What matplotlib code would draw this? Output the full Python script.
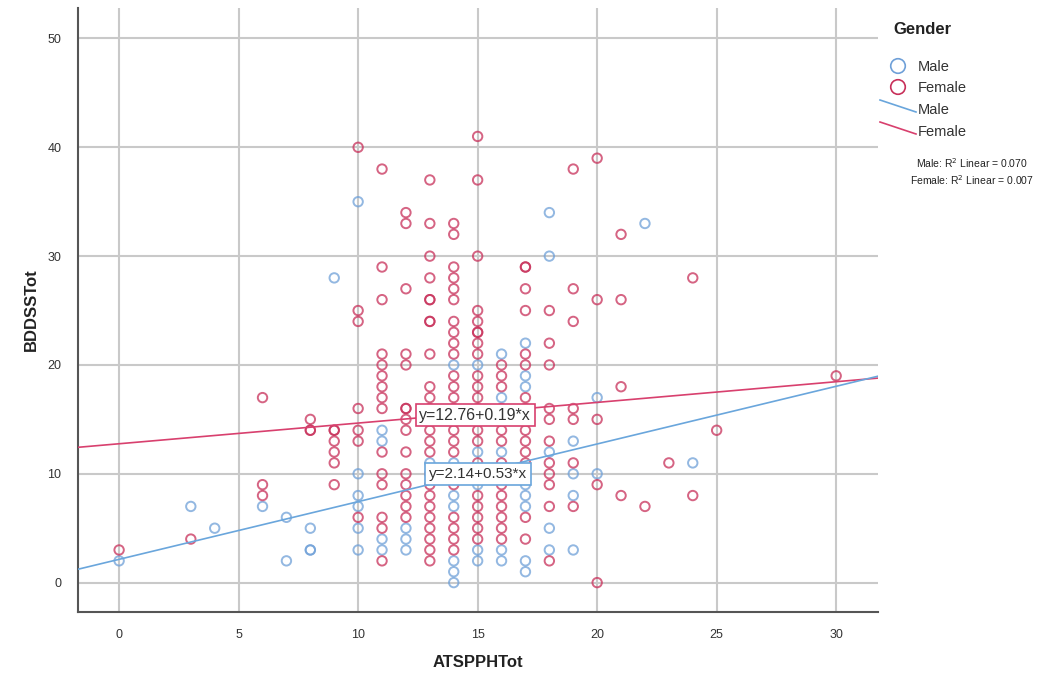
import matplotlib.pyplot as plt
import numpy as np

# scatter values (ATSPPHTot -> list of BDDSSTot)
male_pts = {
    0: [2], 3: [7], 4: [5], 6: [7], 7: [6, 2], 8: [5, 3, 3], 9: [28],
    10: [35, 10, 8, 7, 5, 3], 11: [14, 13, 4, 3], 12: [5, 4, 3], 13: [11],
    14: [20, 11, 10, 8, 7, 2, 1, 0], 15: [20, 12, 9, 3, 2], 16: [21, 17, 12, 3, 2],
    17: [22, 19, 18, 9, 8, 7, 2, 1], 18: [34, 30, 12, 5, 3], 19: [13, 10, 8, 3],
    20: [17, 10], 22: [33], 24: [11],
}
female_pts = {
    0: [3], 3: [4], 6: [17, 9, 8], 8: [15, 14, 14], 9: [14, 14, 13, 12, 11, 9],
    10: [40, 25, 24, 16, 14, 13, 6],
    11: [38, 29, 26, 21, 20, 19, 18, 17, 16, 12, 10, 9, 6, 5, 2],
    12: [34, 33, 27, 21, 20, 16, 16, 15, 14, 12, 10, 9, 8, 7, 6],
    13: [37, 33, 30, 28, 26, 26, 24, 24, 21, 18, 17, 16, 15, 14, 13, 12, 10, 9, 8, 7, 6, 5, 4, 3, 2],
    14: [33, 32, 29, 28, 27, 26, 24, 23, 22, 21, 19, 18, 17, 16, 15, 14, 13, 12, 9, 6, 5, 4, 3],
    15: [41, 37, 30, 25, 24, 23, 23, 22, 21, 19, 18, 17, 16, 15, 14, 13, 11, 10, 8, 7, 6, 5, 4],
    16: [20, 19, 18, 16, 15, 14, 13, 11, 10, 9, 8, 7, 6, 5, 4],
    17: [29, 29, 27, 25, 21, 20, 17, 16, 15, 14, 13, 12, 11, 10, 6, 4],
    18: [25, 22, 20, 16, 15, 13, 11, 10, 9, 7, 2],
    19: [38, 27, 24, 16, 15, 11, 7],
    20: [39, 26, 15, 9, 0], 21: [32, 26, 18, 8], 22: [7], 23: [11],
    24: [28, 8], 25: [14], 30: [19],
}

# fit lines as printed on the chart
male_fit = (2.14, 0.53)
female_fit = (12.76, 0.19)
male_r2 = "0.070"
female_r2 = "0.007"

blue = '#6fa0d8'
red = '#c8305a'

def flatten(d):
    xs, ys = [], []
    for k, v in d.items():
        xs += [k] * len(v)
        ys += v
    return np.array(xs), np.array(ys)

mx, my = flatten(male_pts)
fx, fy = flatten(female_pts)

fig = plt.figure(figsize=(10.57, 6.81), dpi=100)
plt.rcParams['font.family'] = ['Liberation Sans', 'DejaVu Sans']
ax = fig.add_axes([78/1057, 1-612/681, 800/1057, 604/681])

xlim = (-1.72, 31.75)
ax.set_xlim(xlim)
ax.set_ylim(-2.7, 52.8)
ax.set_xticks(range(0, 31, 5))
ax.set_yticks(range(0, 51, 10))
ax.grid(True, color='#c9c9c9', lw=1.5)
ax.set_axisbelow(True)
ax.tick_params(length=0, labelsize=9, colors='#333333', pad=12)
for s in ['top', 'right']:
    ax.spines[s].set_visible(False)
for s in ['left', 'bottom']:
    ax.spines[s].set_color('#555555')
    ax.spines[s].set_linewidth(1.5)

ax.scatter(mx, my, s=46, facecolors='none', edgecolors=blue, linewidths=1.4, alpha=0.75, zorder=3)
ax.scatter(fx, fy, s=46, facecolors='none', edgecolors=red, linewidths=1.4, alpha=0.75, zorder=3)

xx = np.array(xlim)
ax.plot(xx, female_fit[0] + female_fit[1]*xx, color='#d8406e', lw=1.2, zorder=4)
ax.plot(xx, male_fit[0] + male_fit[1]*xx, color='#6aa6dc', lw=1.2, zorder=4)

ax.text(14.9, 15.4, "y=%.2f+%.2f*x" % female_fit, ha='center', va='center', fontsize=11.5,
        color='#333333', zorder=6,
        bbox=dict(boxstyle='square,pad=0.22', fc='white', ec='#d8406e', lw=1.2))
ax.text(15.0, 10.0, "y=%.2f+%.2f*x" % male_fit, ha='center', va='center', fontsize=11,
        color='#333333', zorder=6,
        bbox=dict(boxstyle='square,pad=0.25', fc='white', ec='#6aa6dc', lw=1.2))

ax.set_xlabel('ATSPPHTot', fontsize=12, fontweight='bold', color='#222222', labelpad=10)
ax.set_ylabel('BDDSSTot', fontsize=12, fontweight='bold', color='#222222', labelpad=6)

# legend drawn by hand, in pixel coordinates
lg = fig.add_axes([0, 0, 1, 1])
lg.set_xlim(0, 1057)
lg.set_ylim(681, 0)
lg.axis('off')
lg.text(893, 30, 'Gender', fontsize=12, fontweight='bold', va='center', color='#222222')
lg.scatter([898], [66], s=110, facecolors='none', edgecolors=blue, linewidths=1.2)
lg.text(918, 67, 'Male', fontsize=10.5, va='center', color='#333333')
lg.scatter([898], [87], s=110, facecolors='none', edgecolors=red, linewidths=1.2)
lg.text(918, 88, 'Female', fontsize=10.5, va='center', color='#333333')
lg.plot([880, 916], [100, 112], color='#6aa6dc', lw=1.2)
lg.text(918, 110, 'Male', fontsize=10.5, va='center', color='#333333')
lg.plot([880, 916], [122, 134], color='#d8406e', lw=1.2)
lg.text(918, 132, 'Female', fontsize=10.5, va='center', color='#333333')
lg.text(972, 163, 'Male: R$^2$ Linear = ' + male_r2, fontsize=7.5, ha='center', va='center', color='#222222')
lg.text(972, 180, 'Female: R$^2$ Linear = ' + female_r2, fontsize=7.5, ha='center', va='center', color='#222222')

fig.savefig('out.png', dpi=100)
